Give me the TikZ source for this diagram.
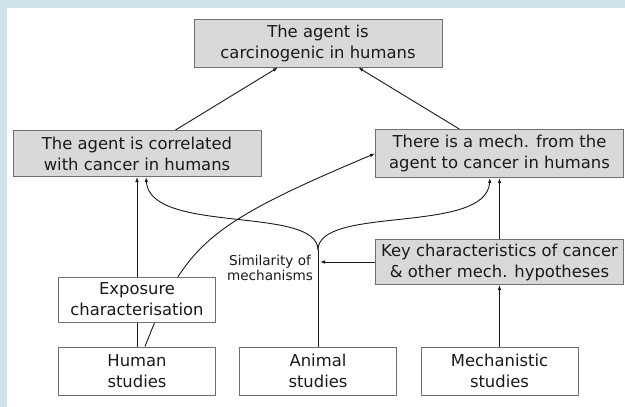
\documentclass[tikz,border=0pt]{standalone}
\usepackage{fontspec}
\setmainfont{DejaVu Sans}
\usetikzlibrary{arrows.meta}
\pgfdeclarelayer{back}
\pgfdeclarelayer{bg}
\pgfsetlayers{back,bg,main}
\definecolor{bgblue}{RGB}{206,227,234}
\definecolor{boxgray}{RGB}{217,217,217}
\definecolor{boxborder}{RGB}{112,112,112}
\definecolor{inkcol}{RGB}{26,26,26}
\tikzset{
  basebox/.style={draw=boxborder, line width=1pt, inner sep=0pt, align=center,
    text=inkcol, font=\fontsize{16.4}{21}\selectfont},
  graybox/.style={basebox, fill=boxgray, minimum width=248pt},
  whitebox/.style={basebox, fill=white, minimum width=157pt, minimum height=48pt},
  arr/.style={draw=inkcol, line width=0.9pt, -{Latex[length=5pt,width=3.6pt]}},
  plainline/.style={draw=inkcol, line width=0.9pt},
  simlabel/.style={align=center, inner sep=0pt, text=inkcol, font=\fontsize{13.6}{12.8}\selectfont}
}
\begin{document}
\begin{tikzpicture}[x=1pt,y=-1pt]
\useasboundingbox (0,0) rectangle (625,407);
\begin{pgfonlayer}{back}
\fill[bgblue] (0,0) rectangle (625,407);
\fill[white] (7,8) rectangle (625,407);
\end{pgfonlayer}

\node[graybox, minimum height=48pt] (top) at (318,43) {The agent is\\carcinogenic in humans};
\node[graybox, minimum height=46pt] (lbox) at (137,153.5) {The agent is correlated\\with cancer in humans};
\node[graybox, minimum height=48pt] (rbox) at (499.5,153.5) {There is a mech. from the\\agent to cancer in humans};
\node[graybox, minimum height=45pt] (key) at (499.5,262) {Key characteristics of cancer\\\& other mech. hypotheses};
\node[whitebox] (human) at (137,371) {Human\\studies};
\node[whitebox] (animal) at (318,371) {Animal\\studies};
\node[whitebox] (mech) at (499.5,371) {Mechanistic\\studies};
\node[whitebox, minimum height=45pt] (expo) at (137,299.5) {Exposure\\characterisation};
\node[simlabel] (sim) at (270,268) {Similarity of\\mechanisms};

\coordinate (junc) at (318,250);
\coordinate (simtip) at (320,262);

\begin{pgfonlayer}{bg}
  \draw[arr] (human.north) -- (human.north |- lbox.south);
  \draw[arr] ([xshift=8pt]human.north) .. controls (185,243.6) and (208,224) .. (rbox.west);
\end{pgfonlayer}

\draw[arr] (lbox) -- (top);
\draw[arr] (rbox) -- (top);
\draw[plainline] (animal.north) -- (junc);
\draw[arr] (junc) .. controls (318,205) and (150,235) .. ([xshift=9pt]lbox.south);
\draw[arr] (junc) .. controls (318,205) and (486,235) .. ([xshift=-9.5pt]rbox.south);
\draw[arr] (key) -- (rbox);
\draw[arr] (mech) -- (key);
\draw[arr] (key.west) -- (simtip);
\end{tikzpicture}
\end{document}
